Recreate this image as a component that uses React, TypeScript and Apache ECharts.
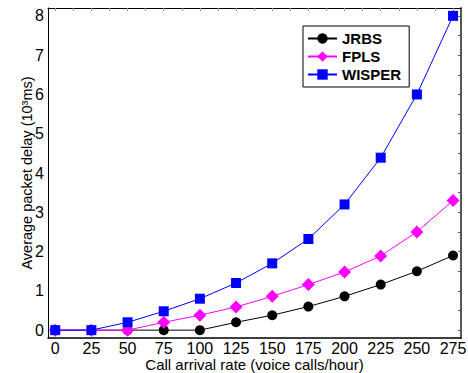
import React, { useEffect, useRef } from "react";
import * as echarts from "echarts";

const rates = [0, 25, 50, 75, 100, 125, 150, 175, 200, 225, 250, 275];
const jrbs = [0, 0, 0, 0, 0, 0.2, 0.38, 0.6, 0.86, 1.16, 1.5, 1.9];
const fpls = [0, 0, 0, 0.2, 0.38, 0.59, 0.86, 1.16, 1.48, 1.89, 2.5, 3.3];
const wisper = [0, 0, 0.2, 0.48, 0.8, 1.2, 1.7, 2.32, 3.2, 4.39, 6.0, 8.0];
const yTicks = [0, 1, 2, 3, 4, 5, 6, 7, 8];
const yMinorTicks = [0, 0.5, 1, 1.5, 2, 2.5, 3, 3.5, 4, 4.5, 5, 5.5, 6, 6.5, 7, 7.5, 8];
const xMinorTicks = [0, 12.5, 25, 37.5, 50, 62.5, 75, 87.5, 100, 112.5, 125, 137.5, 150, 162.5, 175, 187.5, 200, 212.5, 225, 237.5, 250, 262.5, 275];

const FONT = "Liberation Sans, Arial, sans-serif";

export default function App() {
  const ref = useRef<HTMLDivElement>(null);
  useEffect(() => {
    if (!ref.current) return;
    const chart = echarts.init(ref.current, undefined, { renderer: "svg" });
    const pair = (v: number[]) => rates.map((x, i) => [x, v[i]]);
    const mkSeries = (name: string, data: number[], color: string, symbol: string, size: number) => ({
      name,
      type: "line",
      data: pair(data),
      symbol,
      symbolSize: size,
      itemStyle: { color },
      lineStyle: { color, width: 1 },
      xAxisIndex: 0,
      yAxisIndex: 0,
    });
    chart.setOption({
      animation: false,
      backgroundColor: "#fff",
      grid: { left: 48, right: 7, top: 8, bottom: 35, outerBoundsMode: "none", containLabel: false },
      legend: {
        left: 303,
        top: 26,
        orient: "vertical",
        backgroundColor: "#fff",
        borderColor: "#000",
        borderWidth: 1,
        borderRadius: 0,
        padding: [5, 8, 5, 4],
        itemGap: 3,
        itemWidth: 29,
        itemHeight: 13,
        textStyle: { fontFamily: FONT, fontSize: 15, fontWeight: "bold", color: "#000" },
        data: ["JRBS", "FPLS", "WISPER"],
      },
      xAxis: [
        {
          type: "value",
          position: "bottom",
          min: -5,
          max: 280.5,
          splitLine: { show: false },
          axisLine: { show: true, onZero: false, lineStyle: { color: "#000", width: 1.5 } },
          axisTick: { show: false },
          axisLabel: {
            customValues: rates,
            fontFamily: FONT,
            fontSize: 16,
            lineHeight: 14,
            color: "#000",
            margin: 3,
          },
          name: "Call arrival rate (voice calls/hour)",
          nameLocation: "middle",
          nameGap: 19,
          nameMoveOverlap: false,
          nameTextStyle: { fontFamily: FONT, fontSize: 15, lineHeight: 14, color: "#000" },
        },
        {
          type: "value",
          position: "top",
          min: -5,
          max: 280.5,
          splitLine: { show: false },
          axisLine: { show: true, onZero: false, lineStyle: { color: "#000", width: 1 } },
          axisTick: { show: true, inside: true, length: 3, customValues: xMinorTicks, lineStyle: { color: "#999" } },
          axisLabel: { show: false },
        },
      ],
      yAxis: [
        {
          type: "value",
          position: "left",
          min: -0.2,
          max: 8.2,
          splitLine: { show: false },
          axisLine: { show: true, onZero: false, lineStyle: { color: "#000", width: 1 } },
          axisTick: { show: false },
          axisLabel: {
            customValues: yTicks,
            fontFamily: FONT,
            fontSize: 16,
            color: "#000",
            margin: 4,
          },
          name: "Average packet delay (10³ms)",
          nameLocation: "middle",
          nameGap: 14,
          nameMoveOverlap: false,
          nameTextStyle: { fontFamily: FONT, fontSize: 14.5, color: "#000", verticalAlign: "bottom" },
        },
        {
          type: "value",
          position: "right",
          min: -0.2,
          max: 8.2,
          splitLine: { show: false },
          axisLine: { show: true, onZero: false, lineStyle: { color: "#555", width: 2 } },
          axisTick: { show: true, inside: true, length: 3, customValues: yMinorTicks, lineStyle: { color: "#555" } },
          axisLabel: { show: false },
        },
      ],
      series: [
        mkSeries("JRBS", jrbs, "#000000", "circle", 10),
        mkSeries("FPLS", fpls, "#ff00ff", "diamond", 13),
        mkSeries("WISPER", wisper, "#0000ff", "rect", 10),
      ],
    });
    return () => chart.dispose();
  }, []);
  return <div ref={ref} style={{ width: 468, height: 373, position: "absolute", left: 0, top: 0 }} />;
}
